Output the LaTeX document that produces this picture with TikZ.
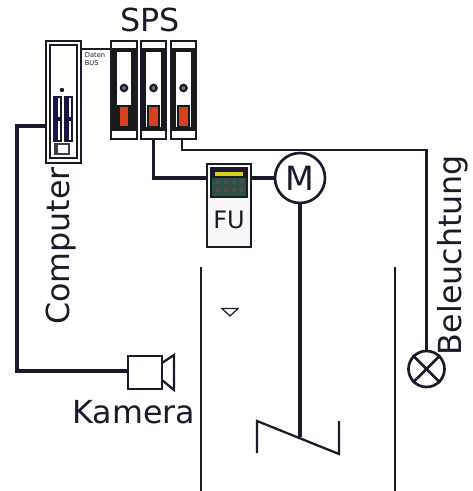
\documentclass[tikz,border=0pt]{standalone}
\usepackage{fontspec}
\setmainfont{DejaVu Sans}
\usetikzlibrary{positioning}
\definecolor{inkdark}{HTML}{1A1A2A}
\definecolor{lampred}{HTML}{D8401E}
\definecolor{panelgreen}{HTML}{2F4F45}
\definecolor{bardisplay}{HTML}{D8D020}
\tikzset{
  wire/.style={draw=inkdark, line width=2.3pt},
  thinwire/.style={draw=inkdark, line width=1.7pt},
  biglabel/.style={font=\fontsize{23.8}{24}\selectfont, text=inkdark, inner sep=0pt},
  spsmodule/.style={draw=inkdark, line width=1.8pt, fill=white, minimum width=25.5*0.75pt, minimum height=98*0.75pt, inner sep=0pt},
  fukey/.style={circle, fill=black!70, inner sep=0pt, minimum size=3.6pt},
}
\newcommand{\spsinner}[1]{%
  \draw[draw=black!90, line width=3.2pt] (#1-9.5,50) rectangle (#1+9.5,129);
  \draw[fill=black!55, draw=inkdark, line width=1.6pt] (#1,88) circle (3.2);
  \draw[fill=lampred, draw=black!90, line width=2.2pt] (#1-5.5,106) rectangle (#1+5.5,127);
}
\begin{document}
\begin{tikzpicture}[x=0.75pt, y=-0.75pt]
  \useasboundingbox (0,0) rectangle (472,491);
  % ---- Computer ----
  \node[draw=inkdark, line width=1.5pt, fill=white, minimum width=26.25pt, minimum height=91.5pt, inner sep=0pt] (computer) at (63.5,102) {};
  \draw[draw=inkdark, line width=1.4pt] (50,45) rectangle (77,158);
  \fill[inkdark] (62,90) circle (2.2);
  \foreach \x in {54,65} {
    \foreach \y in {97,120} {
      \draw[draw=inkdark, line width=1.2pt] (\x,\y) rectangle +(7,21);
      \fill[inkdark!80!blue] (\x,\y) rectangle +(3.5,21);
    }
  }
  \fill[black!75] (54,143) rectangle (70,155);
  \fill[white] (58,145) rectangle (68,153);
  \node[biglabel, rotate=90] (computerlabel) at (61.5,246) {Computer};
  % ---- SPS ----
  \node[spsmodule] (sps1) at (124,90) {};
  \node[spsmodule] (sps2) at (153.5,90) {};
  \node[spsmodule] (sps3) at (183.5,90) {};
  \spsinner{124}
  \spsinner{153.5}
  \spsinner{183.5}
  \node[biglabel] (spslabel) at (150,20) {SPS};
  \node[font=\fontsize{5}{5.5}\selectfont, align=left, inner sep=0pt, text=inkdark] (buslabel) at (95,59) {Daten\\BUS};
  \coordinate (busc) at (81,49);
  \coordinate (busm) at (111,49);
  \draw[thinwire] (busc) -- (busm);
  % ---- FU und Motor ----
  \node[draw=inkdark, line width=1.7pt, fill=black!3, minimum width=33pt, minimum height=62pt, inner sep=0pt] (fu) at (229,205.5) {};
  \fill[inkdark] (210,167) rectangle (248,198);
  \fill[panelgreen] (212,178) rectangle (246,196);
  \fill[bardisplay] (215,172) rectangle (243,176);
  \foreach \x in {218,226,234,241} {
    \foreach \y in {182,190} {
      \node[fukey] at (\x,\y) {};
    }
  }
  \node[font=\fontsize{18}{18}\selectfont, text=inkdark, inner sep=0pt] (fulabel) at (229,220) {FU};
  \node[circle, draw=inkdark, line width=2pt, fill=white, minimum size=37.5pt, inner sep=0pt, font=\fontsize{25}{25}\selectfont, text=inkdark] (motor) at (300,178) {M};
  \draw[wire] (sps2.south) |- (fu.west |- motor.west);
  \draw[wire] (fu.east |- motor.west) -- (motor.west);
  % ---- Beleuchtung ----
  \node[circle, draw=inkdark, line width=2pt, fill=white, minimum size=27pt, inner sep=0pt] (lamp) at (426.5,369) {};
  \draw[draw=inkdark, line width=2pt] (lamp.north west) -- (lamp.south east);
  \draw[draw=inkdark, line width=2pt] (lamp.north east) -- (lamp.south west);
  \coordinate (lampturn) at (426.5,150);
  \coordinate (spsturn) at (182,150);
  \draw[wire, line width=2.1pt] (sps3.south -| spsturn) -- (spsturn) -- (lampturn) -- (lamp.north);
  \node[biglabel, rotate=90] (lamplabel) at (453,255) {Beleuchtung};
  % ---- Kamera ----
  \node[draw=inkdark, line width=1.7pt, fill=white, minimum width=25.5pt, minimum height=24.5pt, inner sep=0pt] (camera) at (145,372.5) {};
  \draw[draw=inkdark, line width=1.7pt] (162,363) -- (174,355) -- (174,390) -- (162,380);
  \coordinate (pcturn) at (17,126);
  \coordinate (camturn) at (17,371);
  \draw[wire] (computer.west |- pcturn) -- (pcturn) -- (camturn) -- (camera.west |- camturn);
  \node[biglabel] (cameralabel) at (134,412) {Kamera};
  % ---- Behaelter ----
  \draw[thinwire] (201,267) -- (201,491);
  \draw[thinwire] (395,267) -- (395,491);
  \draw[draw=inkdark, line width=0.9pt] (222,308.5) -- (238,308.5) -- (230,316) -- cycle;
  % ---- Ruehrwerk ----
  \coordinate (hub) at (300,437);
  \draw[wire] (motor.south) -- (hub);
  \draw[thinwire, line join=miter] (257,453) -- (257,421) -- (339,454) -- (339,421);
\end{tikzpicture}
\end{document}
